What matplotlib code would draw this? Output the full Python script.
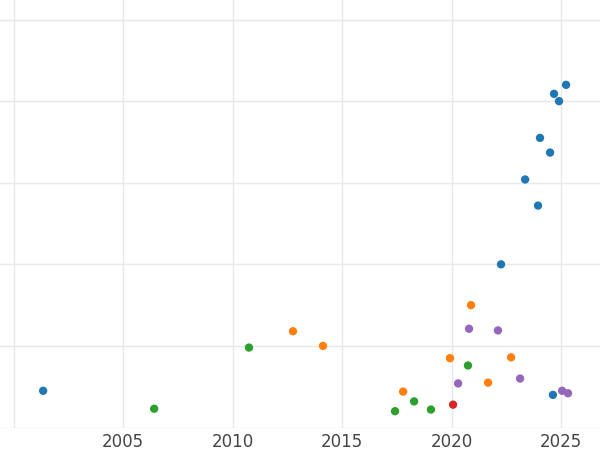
import matplotlib
matplotlib.use("Agg")
import matplotlib.pyplot as plt

# series (x = year, y = value in grid units)
blue_x = [2001.35, 2022.26, 2023.95, 2023.36, 2024.5, 2024.04, 2024.91, 2024.68, 2025.23, 2024.63]
blue_y = [0.45, 2.0, 2.72, 3.04, 3.37, 3.55, 4.0, 4.09, 4.2, 0.40]
orange_x = [2012.76, 2014.13, 2017.79, 2019.93, 2020.89, 2021.67, 2022.72]
orange_y = [1.18, 1.0, 0.44, 0.85, 1.50, 0.55, 0.86]
green_x = [2006.42, 2010.75, 2017.42, 2018.29, 2019.06, 2020.75]
green_y = [0.23, 0.98, 0.20, 0.32, 0.22, 0.76]
red_x = [2020.07]
red_y = [0.28]
purple_x = [2020.8, 2020.30, 2022.12, 2023.13, 2025.05, 2025.32]
purple_y = [1.21, 0.54, 1.19, 0.60, 0.45, 0.42]

series = [
    (blue_x, blue_y, "#1f77b4"),
    (orange_x, orange_y, "#ff7f0e"),
    (green_x, green_y, "#2ca02c"),
    (red_x, red_y, "#d62728"),
    (purple_x, purple_y, "#9467bd"),
]

fig = plt.figure(figsize=(6, 4.5), dpi=100)
ax = fig.add_axes([0, 0.05, 1, 0.95])
for xs, ys, c in series:
    ax.scatter(xs, ys, color=c, s=36, zorder=3, edgecolors="none")

ax.set_xlim(1999.38, 2026.78)
ax.set_ylim(0, 5.24)
ax.set_xticks([2000, 2005, 2010, 2015, 2020, 2025])
ax.set_xticklabels(["", "2005", "2010", "2015", "2020", "2025"])
ax.set_yticks([0, 1, 2, 3, 4, 5])
ax.set_yticklabels([])
ax.tick_params(length=0, labelsize=12, labelcolor="#444444", pad=4)
ax.grid(True, color="#e8e8e8", linewidth=1)
ax.set_axisbelow(True)
for s in ax.spines.values():
    s.set_visible(False)

fig.savefig("out.png", dpi=100)
